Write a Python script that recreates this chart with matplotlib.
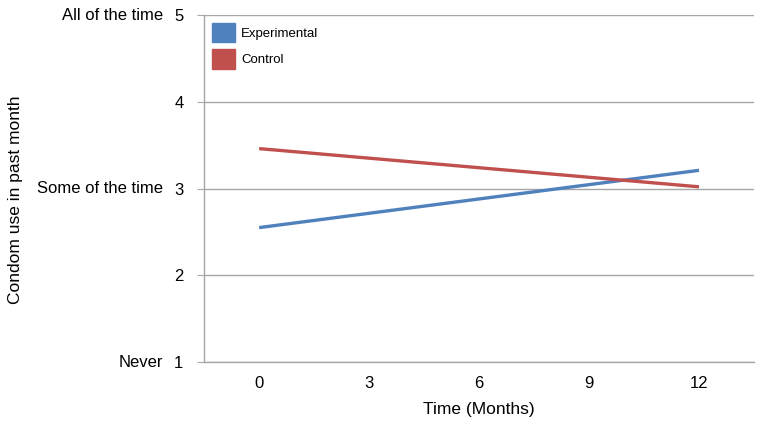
import matplotlib.pyplot as plt
from matplotlib.patches import Patch

plt.rcParams['font.family'] = ['Liberation Sans', 'DejaVu Sans']

# data
months = [0, 12]
experimental = [2.55, 3.21]
control = [3.46, 3.02]
x_ticks = [0, 3, 6, 9, 12]
y_ticks = [1, 2, 3, 4, 5]
y_words = {1: 'Never', 3: 'Some of the time', 5: 'All of the time'}

blue = '#4F81BD'
red = '#C0504D'
grid_col = '#A6A6A6'

fig = plt.figure(figsize=(7.62, 4.29), dpi=100)
ax = fig.add_axes([0.268, 0.156, 0.7215, 0.809])

ax.plot(months, experimental, color=blue, lw=2.4, solid_capstyle='butt', zorder=3)
ax.plot(months, control, color=red, lw=2.4, solid_capstyle='butt', zorder=3)

ax.set_xlim(-1.5, 13.5)
ax.set_ylim(1, 5)
ax.set_xticks(x_ticks)
ax.set_yticks(y_ticks)
ax.tick_params(axis='x', length=0, pad=10, labelsize=12)
ax.tick_params(axis='y', length=5, color=grid_col, pad=10, labelsize=12)

for s in ['top', 'right']:
    ax.spines[s].set_visible(False)
for s in ['left', 'bottom']:
    ax.spines[s].set_color(grid_col)
    ax.spines[s].set_linewidth(1)

ax.grid(axis='y', color=grid_col, lw=1)
ax.set_axisbelow(True)

for val, word in y_words.items():
    ax.text(-0.075, val, word, transform=ax.get_yaxis_transform(),
            ha='right', va='center', fontsize=12)

ax.set_xlabel('Time (Months)', fontsize=12.5, labelpad=8)
fig.text(0.02, 0.535, 'Condom use in past month', rotation=90,
         ha='center', va='center', fontsize=12.5)

handles = [Patch(color=blue), Patch(color=red)]
ax.legend(handles, ['Experimental', 'Control'], loc='upper left',
          frameon=False, fontsize=9.5, handlelength=1.7, handleheight=1.9,
          handletextpad=0.5, labelspacing=0.5, borderaxespad=0.2,
          bbox_to_anchor=(0.0, 1.0))

fig.savefig('out.png', dpi=100)
